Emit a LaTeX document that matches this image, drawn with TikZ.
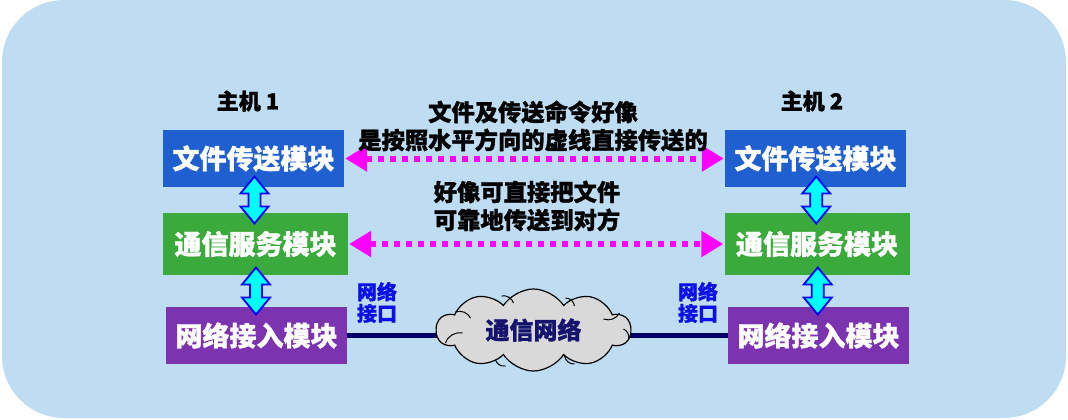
\documentclass[tikz,border=0pt]{standalone}
\usepackage{fontspec}
\setmainfont{Noto Sans CJK SC}[BoldFeatures={FakeBold=1.2}]
\usetikzlibrary{arrows.meta,calc,shapes.symbols}
\definecolor{bgc}{HTML}{BEDDF2}
\definecolor{boxblue}{HTML}{1F5FCF}
\definecolor{boxgreen}{HTML}{3BAA3C}
\definecolor{boxpurple}{HTML}{7B33B0}
\definecolor{navy}{HTML}{000066}
\definecolor{cloudtext}{HTML}{14146E}
\definecolor{ifblue}{HTML}{0A10E6}
\definecolor{cloudgray}{HTML}{D9D9D9}
\definecolor{arrcyan}{HTML}{00FFFF}
\definecolor{arrblue}{HTML}{0000FF}
\definecolor{mag}{HTML}{FF00FF}
\tikzset{
  modbox/.style={minimum height=#1, inner sep=0pt, text=white,
     font=\fontsize{27}{30}\selectfont\bfseries},
  dblstyle/.style={draw=arrblue, line width=1.8pt, fill=arrcyan, line join=miter},
  dotarrow/.style={mag, line width=6pt, dash pattern=on 6pt off 6pt,
     {Triangle[length=22pt,width=25pt]}-{Triangle[length=22pt,width=25pt]},
     shorten <=1pt, shorten >=1pt},
  hostlabel/.style={font=\fontsize{22}{24}\selectfont\bfseries, text=black},
  midtext/.style={align=center, font=\fontsize{23.3}{28}\selectfont\bfseries, text=black},
  iflabel/.style={align=center, text=ifblue, font=\fontsize{20}{21.6}\selectfont\bfseries},
  puffline/.style={draw=black, line width=1pt}
}
% vertical double arrow between two stacked nodes
\newcommand\vdblarrow[2]{%
  \draw[dblstyle] let \p1=($(#1.south)!0.5!(#2.north)$) in
    (\x1,\y1+23.5pt) -- (\x1+14pt,\y1+6.5pt) -- (\x1+6pt,\y1+6.5pt)
    -- (\x1+6pt,\y1-6.5pt) -- (\x1+14pt,\y1-6.5pt) -- (\x1,\y1-23.5pt)
    -- (\x1-14pt,\y1-6.5pt) -- (\x1-6pt,\y1-6.5pt) -- (\x1-6pt,\y1+6.5pt)
    -- (\x1-14pt,\y1+6.5pt) -- cycle;}
\begin{document}
\begin{tikzpicture}[x=1pt,y=-1pt]
\useasboundingbox (0,0) rectangle (1068,420);
\fill[bgc, rounded corners=62pt] (2,0) rectangle (1066,418);

% host labels
\node[hostlabel] (h1) at (248,101) {主机 1};
\node[hostlabel] (h2) at (812,101) {主机 2};

% left stack
\node[modbox=57pt, minimum width=181pt, fill=boxblue] (b1) at (253.5,158.5) {文件传送模块};
\node[modbox=62pt, minimum width=185pt, fill=boxgreen] (g1) at (255.5,244) {通信服务模块};
\node[modbox=57pt, minimum width=181pt, fill=boxpurple] (p1) at (256.5,335.5) {网络接入模块};
% right stack
\node[modbox=57pt, minimum width=181pt, fill=boxblue] (b2) at (815.5,158.5) {文件传送模块};
\node[modbox=62pt, minimum width=185pt, fill=boxgreen] (g2) at (817,244) {通信服务模块};
\node[modbox=57pt, minimum width=181pt, fill=boxpurple] (p2) at (818.5,335.5) {网络接入模块};

% vertical double arrows
\vdblarrow{b1}{g1}
\vdblarrow{g1}{p1}
\vdblarrow{b2}{g2}
\vdblarrow{g2}{p2}

% dotted peer arrows
\draw[dotarrow] (b1.east) -- (b2.west);
\draw[dotarrow] (g1.east) -- (g2.west);

\node[midtext] (t1) at (533,126) {文件及传送命令好像\\是按照水平方向的虚线直接传送的};
\node[midtext] (t2) at (527,206) {好像可直接把文件\\可靠地传送到对方};

% network
\draw[navy, line width=5pt] (p1.east) -- (p2.west);
\node[cloud, cloud puffs=10, cloud puff arc=115, aspect=2.4, draw=black, line width=1.2pt,
      fill=cloudgray, minimum width=194pt, minimum height=82pt, inner sep=0pt,
      text=cloudtext, font=\fontsize{24}{26}\selectfont\bfseries] (net) at (533.5,330) {通信网络};
% inner puff arcs of the cloud
\draw[puffline] ($(net.center)+(-88,13)$) to[bend left=40] ($(net.center)+(-71,3)$);
\draw[puffline] ($(net.center)+(-78,-18)$) to[bend left=40] ($(net.center)+(-63,-12)$);
\draw[puffline] ($(net.center)+(-32,-34)$) to[bend left=40] ($(net.center)+(-20,-27)$);
\draw[puffline] ($(net.center)+(32,-32)$) to[bend left=40] ($(net.center)+(41,-24)$);
\draw[puffline] ($(net.center)+(70,-11)$) to[bend right=40] ($(net.center)+(86,-17)$);
\draw[puffline] ($(net.center)+(90,-1)$) to[bend left=40] ($(net.center)+(95,10)$);
\draw[puffline] ($(net.center)+(31,26)$) to[bend right=40] ($(net.center)+(41,34)$);
\draw[puffline] ($(net.center)+(-38,30)$) to[bend right=40] ($(net.center)+(-28,36)$);

\node[iflabel] (if1) at (377,302.5) {网络\\接口};
\node[iflabel] (if2) at (698,302.5) {网络\\接口};
\end{tikzpicture}
\end{document}
